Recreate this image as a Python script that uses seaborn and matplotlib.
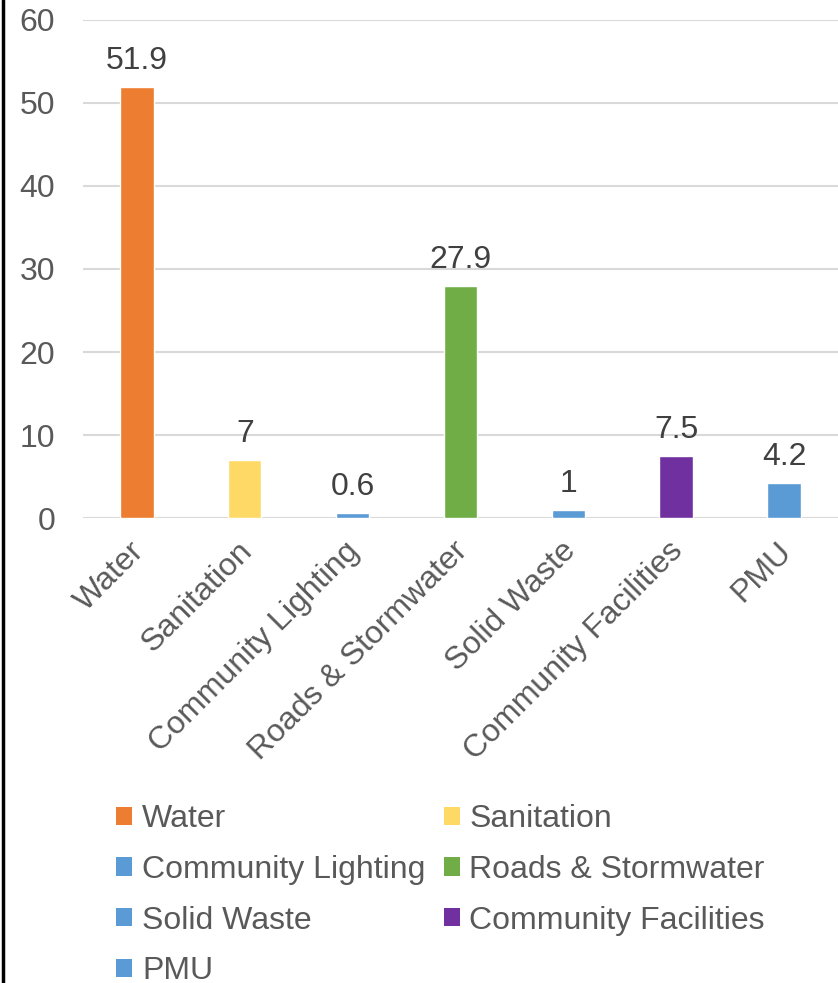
import matplotlib
matplotlib.use("Agg")
import matplotlib.pyplot as plt
import matplotlib.transforms as mtransforms
import seaborn as sns
import pandas as pd
from matplotlib.patches import Patch
from matplotlib.lines import Line2D

# data
categories = ["Water", "Sanitation", "Community Lighting", "Roads & Stormwater",
              "Solid Waste", "Community Facilities", "PMU"]
values = [51.9, 7, 0.6, 27.9, 1, 7.5, 4.2]
value_labels = ["51.9", "7", "0.6", "27.9", "1", "7.5", "4.2"]
colors = ["#ED7D31", "#FFD966", "#5B9BD5", "#70AD47", "#5B9BD5", "#7030A0", "#5B9BD5"]
yticks = [0, 10, 20, 30, 40, 50, 60]

df = pd.DataFrame({"cat": categories, "val": values})

sns.set_theme(style="white")
plt.rcParams["font.family"] = ["Liberation Sans", "DejaVu Sans"]

fs = 23
fig = plt.figure(figsize=(8.38, 9.83), dpi=100)
ax = fig.add_axes([0.099, 0.473, 0.901, 0.5067])

sns.barplot(data=df, x="cat", y="val", hue="cat", palette=colors, width=0.31,
            legend=False, ax=ax, saturation=1)

ax.set_ylim(0, 60)
ax.set_xlim(-0.5, 6.5)
ax.set_yticks(yticks)
ax.set_yticklabels([str(t) for t in yticks], fontsize=fs, color="#595959")
ax.yaxis.grid(True, color="#D9D9D9", linewidth=1.5)
ax.set_axisbelow(True)
ax.tick_params(axis="both", length=0)
ax.tick_params(axis="y", pad=20)
ax.set_xticks(range(len(categories)))
ax.set_xticklabels(categories, rotation=45, ha="right", rotation_mode="anchor",
                   fontsize=fs, color="#595959")
ax.tick_params(axis="x", pad=13)
shift = mtransforms.ScaledTranslation(-0.08, 0, fig.dpi_scale_trans)
for t in ax.get_xticklabels():
    t.set_transform(t.get_transform() + shift)
ax.set_xlabel("")
ax.set_ylabel("")
for s in ax.spines.values():
    s.set_visible(False)

for i, (v, lab) in enumerate(zip(values, value_labels)):
    ax.annotate(lab, (i, v), xytext=(0, 8), textcoords="offset points",
                ha="center", va="bottom", fontsize=fs, color="#404040")

# legend in row-major order
order = [0, 2, 4, 6, 1, 3, 5]
handles = [Patch(facecolor=colors[i], edgecolor="none") for i in order]
labels = [categories[i] for i in order]
fig.legend(handles, labels, ncol=2, loc="upper left", bbox_to_anchor=(0.139, 0.182),
           frameon=False, fontsize=fs, handlelength=0.5, handleheight=0.5,
           handletextpad=0.3, columnspacing=0.58, labelspacing=0.65,
           labelcolor="#595959", borderpad=0, borderaxespad=0)

# left border of chart frame
fig.add_artist(Line2D([0.003, 0.003], [0, 1], color="black", linewidth=2.5,
                      transform=fig.transFigure))

fig.savefig("out.png", dpi=100)
